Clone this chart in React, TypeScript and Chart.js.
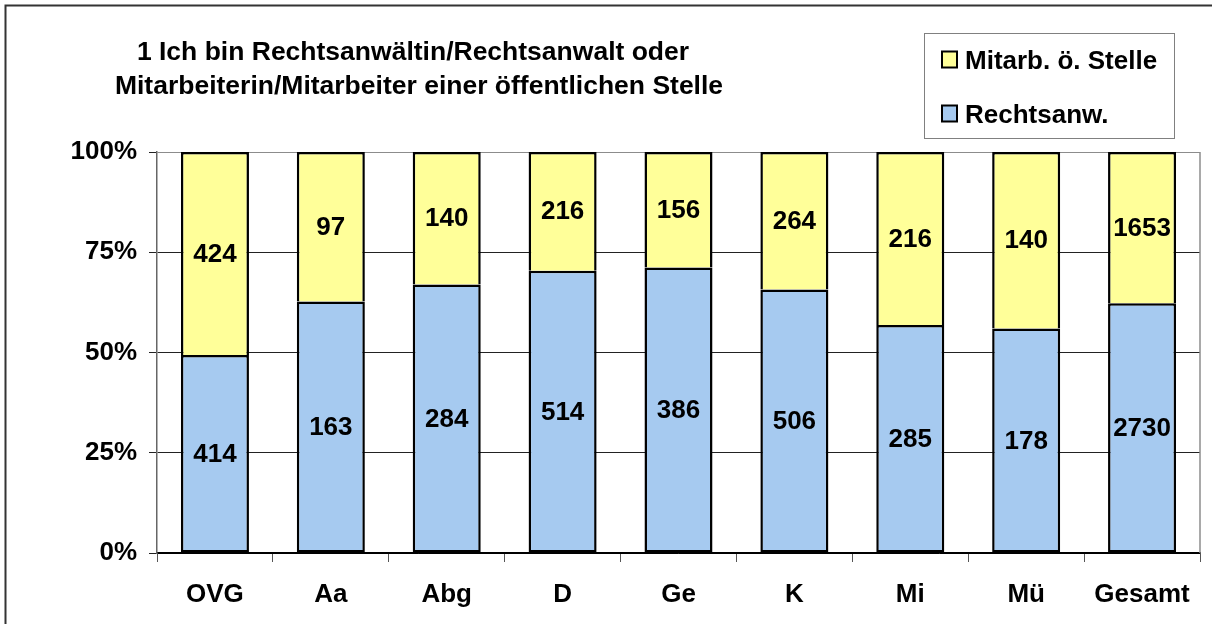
import React, { useEffect, useRef } from "react";
import { Chart, registerables } from "chart.js";

Chart.register(...registerables);

const categories = ["OVG", "Aa", "Abg", "D", "Ge", "K", "Mi", "Mü", "Gesamt"];
const rechtsanw = [414, 163, 284, 514, 386, 506, 285, 178, 2730];
const mitarb = [424, 97, 140, 216, 156, 264, 216, 140, 1653];
const seriesNames = ["Rechtsanw.", "Mitarb. ö. Stelle"];
const titleLines = [
  "1 Ich bin Rechtsanwältin/Rechtsanwalt oder",
  "Mitarbeiterin/Mitarbeiter einer öffentlichen Stelle",
];
const yTicks = [0, 25, 50, 75, 100];

const BLUE = "#A6CAF0";
const YELLOW = "#FFFF99";
const FONT = "'Liberation Sans', Arial, sans-serif";

export default function App() {
  const ref = useRef<HTMLCanvasElement | null>(null);

  useEffect(() => {
    document.body.style.margin = "0";
    const canvas = ref.current;
    if (!canvas) return;
    const totals = categories.map((_, i) => rechtsanw[i] + mitarb[i]);
    const pctA = rechtsanw.map((v, i) => (v / totals[i]) * 100);
    const pctB = mitarb.map((v, i) => (v / totals[i]) * 100);
    const counts = [rechtsanw, mitarb];

    const decor = {
      id: "decor",
      beforeDraw(chart: any) {
        const ctx = chart.ctx;
        ctx.save();
        ctx.fillStyle = "#ffffff";
        ctx.fillRect(0, 0, chart.width, chart.height);
        ctx.restore();
      },
      afterDatasetsDraw(chart: any) {
        const ctx = chart.ctx;
        const ca = chart.chartArea;
        ctx.save();
        ctx.strokeStyle = "#8c8c8c";
        ctx.lineWidth = 1.5;
        ctx.beginPath();
        ctx.moveTo(ca.right, ca.top);
        ctx.lineTo(ca.right, ca.bottom);
        ctx.stroke();
        ctx.fillStyle = "#000";
        ctx.font = `bold 26px ${FONT}`;
        ctx.textAlign = "center";
        ctx.textBaseline = "middle";
        chart.data.datasets.forEach((ds: any, di: number) => {
          const meta = chart.getDatasetMeta(di);
          meta.data.forEach((bar: any, i: number) => {
            const p = bar.getProps(["x", "y", "base"], true);
            const cy = (p.y + p.base) / 2;
            ctx.fillText(String(counts[di][i]), p.x, cy + 1);
          });
        });
        ctx.restore();
      },
      afterDraw(chart: any) {
        const ctx = chart.ctx;
        ctx.save();
        ctx.strokeStyle = "#333";
        ctx.lineWidth = 2;
        ctx.beginPath();
        ctx.moveTo(5.5, chart.height);
        ctx.lineTo(5.5, 5.5);
        ctx.lineTo(chart.width, 5.5);
        ctx.stroke();
        ctx.fillStyle = "#000";
        ctx.font = `bold 26.5px ${FONT}`;
        ctx.textAlign = "center";
        ctx.textBaseline = "alphabetic";
        ctx.fillText(titleLines[0], 413, 60);
        ctx.fillText(titleLines[1], 419, 94);
        ctx.strokeStyle = "#808080";
        ctx.lineWidth = 1;
        ctx.strokeRect(924.5, 33.5, 250, 105);
        const items = [
          { name: seriesNames[1], color: YELLOW, cy: 59.5 },
          { name: seriesNames[0], color: BLUE, cy: 113.5 },
        ];
        items.forEach((it) => {
          ctx.fillStyle = it.color;
          ctx.fillRect(942, it.cy - 8, 15, 16);
          ctx.strokeStyle = "#000";
          ctx.lineWidth = 2;
          ctx.strokeRect(942, it.cy - 8, 15, 16);
          ctx.fillStyle = "#000";
          ctx.font = `bold 26px ${FONT}`;
          ctx.textAlign = "left";
          ctx.textBaseline = "alphabetic";
          ctx.fillText(it.name, 965, it.cy + 9);
        });
        ctx.restore();
      },
    };

    const chart = new Chart(canvas, {
      type: "bar",
      data: {
        labels: categories,
        datasets: [
          {
            label: seriesNames[0],
            data: pctA,
            backgroundColor: BLUE,
            borderColor: "#000",
            borderWidth: 2.5,
            borderSkipped: false,
            barPercentage: 0.587,
            categoryPercentage: 1,
          },
          {
            label: seriesNames[1],
            data: pctB,
            backgroundColor: YELLOW,
            borderColor: "#000",
            borderWidth: 2.5,
            borderSkipped: "start",
            barPercentage: 0.587,
            categoryPercentage: 1,
          },
        ],
      },
      options: {
        responsive: false,
        animation: false,
        events: [],
        layout: { padding: { left: 5, top: 152, right: 12, bottom: 10 } },
        plugins: {
          legend: { display: false },
          title: { display: false },
          tooltip: { enabled: false },
        },
        scales: {
          x: {
            stacked: true,
            grid: {
              display: true,
              drawOnChartArea: false,
              drawTicks: true,
              tickLength: 9,
              color: "#555",
              offset: true,
            },
            border: { display: true, color: "#000", width: 1.5 },
            ticks: {
              color: "#000",
              font: { family: FONT, size: 26, weight: "bold" },
              padding: 17,
              maxRotation: 0,
              autoSkip: false,
            },
            afterFit(scale: any) {
              scale.height = 61;
            },
          },
          y: {
            stacked: true,
            min: 0,
            max: 100,
            afterBuildTicks(scale: any) {
              scale.ticks = yTicks.map((v) => ({ value: v }));
            },
            grid: {
              color: (c: any) =>
                c.tick && c.tick.value === 100 ? "#8c8c8c" : c.tick && c.tick.value === 0 ? "#000" : "#222",
              lineWidth: 1,
              tickLength: 8,
              tickColor: "#222",
            },
            border: { display: true, color: "#666", width: 1.5 },
            ticks: {
              color: "#000",
              font: { family: FONT, size: 26, weight: "bold" },
              padding: 12,
              callback: (v: any) => `${v}%`,
            },
            afterFit(scale: any) {
              scale.width = 152;
            },
          },
        },
      },
      plugins: [decor],
    });
    return () => chart.destroy();
  }, []);

  return (
    <div style={{ width: 1212, height: 624 }}>
      <canvas ref={ref} width={1212} height={624} style={{ display: "block" }} />
    </div>
  );
}
